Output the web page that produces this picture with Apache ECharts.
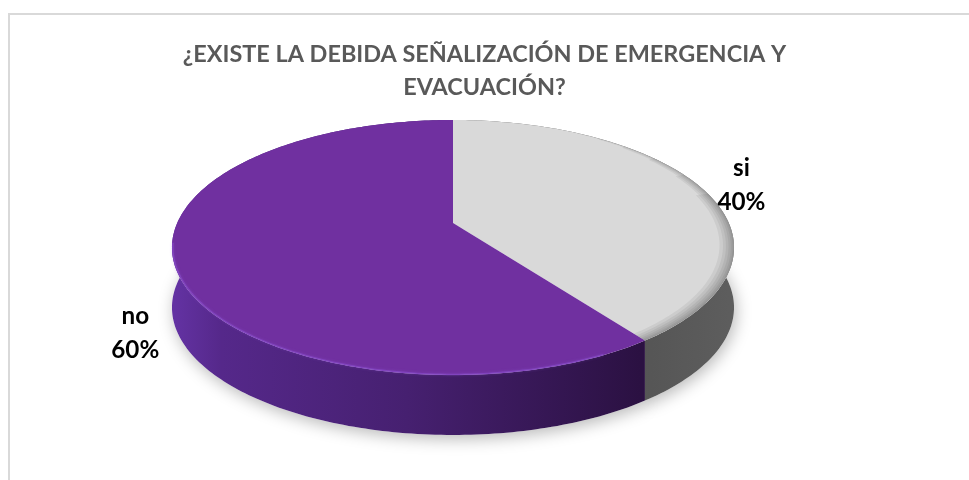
<!DOCTYPE html>
<html><head><meta charset="utf-8">
<script src="https://cdn.jsdelivr.net/npm/echarts@6/dist/echarts.min.js"></script>
<style>html,body{margin:0;padding:0;background:#fff}#c{width:969px;height:480px}</style>
</head><body><div id="c"></div>
<script>
// ---- data ----
const categories = ['si', 'no'];
const values = [40, 60];
const titleLines = ['¿EXISTE LA DEBIDA SEÑALIZACIÓN DE EMERGENCIA Y', 'EVACUACIÓN?'];

// ---- style ----
const FONT = 'Lato';
const topColors = ['#d9d9d9', '#7030a0'];
const P = {cx: 453, cy: 223, A: 275.8, B: 122.8, k: 0.192, D: 60};

function fitSize(text, targetW, base) {
  const c = document.createElement('canvas').getContext('2d');
  c.font = 'bold ' + base + 'px ' + FONT;
  return base * targetW / c.measureText(text).width;
}
const titleSize = fitSize(titleLines[0], 592, 26) * 1.02;
const labelSize = fitSize('60%', 48, 26);

const total = values.reduce((a, b) => a + b, 0);
const cum = [];
values.reduce((acc, v, i) => { cum[i] = acc; return acc + v; }, 0);

function proj(phi, r, dz) {
  const u = r * Math.sin(phi), v = -r * Math.cos(phi);
  const w = 1 - P.k * v;
  return [P.cx + P.A * u / w, P.cy + P.B * v / w + (dz || 0)];
}
function arc(a0, a1, r, dz) {
  const pts = [];
  const n = Math.max(2, Math.ceil(Math.abs(a1 - a0) / (Math.PI / 180)));
  for (let i = 0; i <= n; i++) pts.push(proj(a0 + (a1 - a0) * i / n, r, dz));
  return pts;
}
const sideFill = [
  {type: 'linear', x: 640, y: 0, x2: 740, y2: 0, global: true,
   colorStops: [{offset: 0, color: '#555555'}, {offset: 1, color: '#5e5e5e'}]},
  {type: 'linear', x: 175, y: 0, x2: 640, y2: 0, global: true,
   colorStops: [{offset: 0, color: '#6332a2'}, {offset: 0.1, color: '#55288a'},
                {offset: 0.5, color: '#462070'}, {offset: 1, color: '#2b1142'}]}
];

function renderItem(params, api) {
  const i = params.dataIndex;
  const v = api.value(0), before = api.value(1);
  const a0 = before / total * 2 * Math.PI, a1 = (before + v) / total * 2 * Math.PI;
  const topArc = arc(a0, a1, 1, 0);
  const botArc = arc(a0, a1, 1, P.D);
  const ch = [];
  ch.push({type: 'polygon', z2: 0, shape: {points: [proj(0, 0, P.D)].concat(botArc)},
    style: {fill: '#fff', shadowBlur: 16, shadowColor: 'rgba(0,0,0,0.28)', shadowOffsetY: 4, shadowOffsetX: 2}});
  ch.push({type: 'polygon', z2: 1, shape: {points: topArc.concat(botArc.slice().reverse())},
    style: {fill: sideFill[i]}});
  ch.push({type: 'polygon', z2: 10, shape: {points: [proj(0, 0, 0)].concat(topArc)},
    style: {fill: topColors[i]}});
  // bevel shading along outer rim of top face
  if (i === 0) {
    const rings = [[0.95, 0.42], [0.962, 0.36], [0.972, 0.30], [0.981, 0.25], [0.989, 0.21], [0.995, 0.18]];
    rings.forEach(([r, s]) => {
      const aa = Math.max(a0, s * Math.PI);
      const outer = arc(aa, a1, 1, 0), inner = arc(aa, a1, r, 0).reverse();
      ch.push({type: 'polygon', z2: 11, shape: {points: outer.concat(inner)},
        style: {fill: 'rgba(0,0,0,0.06)'}});
    });
  } else {
    const s = Math.max(a0, Math.PI * 0.85), e = Math.min(a1, Math.PI * 1.45);
    ch.push({type: 'polyline', z2: 12, shape: {points: arc(s, e, 0.997, 0)},
      style: {stroke: 'rgba(140,80,210,0.55)', lineWidth: 1.5, fill: null, shadowBlur: 3, shadowColor: 'rgba(150,95,220,0.6)'}});
  }
  // label
  const mid = (a0 + a1) / 2;
  const lp = proj(mid, 1.15, 0);
  const vv = -Math.cos(mid);
  const pct = Math.round(v / total * 100) + '%';
  ch.push({type: 'text', z2: 20, x: lp[0] + 6, y: lp[1] + 3 + (vv > 0 ? P.D : 0),
    style: {text: categories[i] + '\n' + pct, fill: '#000', font: 'bold ' + labelSize.toFixed(2) + 'px ' + FONT,
      lineHeight: 34, align: 'center', verticalAlign: 'middle'}});
  return {type: 'group', children: ch};
}

const chart = echarts.init(document.getElementById('c'));
chart.setOption({
  animation: false,
  backgroundColor: '#fff',
  title: {
    text: titleLines.join('\n'), left: 'center', top: 38, padding: 0,
    textStyle: {fontFamily: FONT, fontWeight: 'bold', fontSize: titleSize, color: '#595959', lineHeight: 33}
  },
  graphic: [{type: 'rect', shape: {x: 9, y: 14, width: 1000, height: 500},
    style: {fill: 'none', stroke: '#d9d9d9', lineWidth: 2}, silent: true}],
  series: [{
    type: 'custom', coordinateSystem: 'none', renderItem: renderItem,
    data: values.map((v, i) => ({name: categories[i], value: [v, cum[i]]}))
  }]
});
</script></body></html>
